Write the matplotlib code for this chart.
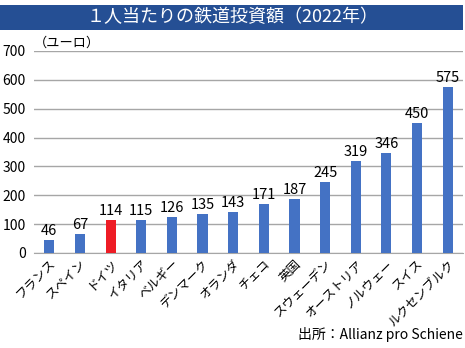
import matplotlib.pyplot as plt
from matplotlib.patches import Rectangle

plt.rcParams['font.family'] = ['Noto Sans CJK JP', 'DejaVu Sans']

countries = ["フランス", "スペイン", "ドイツ", "イタリア", "ベルギー", "デンマーク", "オランダ",
             "チェコ", "英国", "スウェーデン", "オーストリア", "ノルウェー", "スイス", "ルクセンブルク"]
values = [46, 67, 114, 115, 126, 135, 143, 171, 187, 245, 319, 346, 450, 575]
highlight = "ドイツ"

blue = "#4472c4"
red = "#ee1c25"
colors = [red if c == highlight else blue for c in countries]

fig = plt.figure(figsize=(4.65, 3.48), dpi=100)
ax = fig.add_axes([34 / 465, 1 - 253 / 348, 429 / 465, (253 - 51) / 348])

x = range(len(countries))
bars = ax.bar(x, values, width=0.33, color=colors, zorder=3)
for xi, v in zip(x, values):
    ax.text(xi, v + 7, str(v), ha='center', va='bottom', fontsize=10.5)

ax.set_ylim(0, 700)
ax.set_xlim(-0.5, len(countries) - 0.5)
ax.set_yticks(range(0, 701, 100))
ax.grid(axis='y', color='#a6a6a6', linewidth=1, zorder=0)
for s in ['top', 'right', 'left']:
    ax.spines[s].set_visible(False)
ax.spines['bottom'].set_color('#a6a6a6')
ax.tick_params(axis='y', length=0, labelsize=10, pad=6)
ax.tick_params(axis='x', length=0, pad=3)
ax.set_xticks(list(x))
ax.set_xticklabels(countries, rotation=45, ha='right', rotation_mode='anchor', fontsize=9)

ax.text(0.0, 703, "（ユーロ）", fontsize=9.5, ha='left', va='bottom', transform=ax.get_yaxis_transform())

# title bar
fig.patches.append(Rectangle((0, 1 - 30 / 348), 463 / 465, 25 / 348, transform=fig.transFigure,
                             facecolor='#254f94', edgecolor='none'))
fig.text(0.5, 1 - 17.5 / 348, "１人当たりの鉄道投資額（2022年）", color='white', fontsize=13,
         ha='center', va='center')

fig.text(0.995, 1 - 335 / 348, "出所：Allianz pro Schiene", fontsize=10, ha='right', va='center')

fig.savefig("out.png", dpi=100)
